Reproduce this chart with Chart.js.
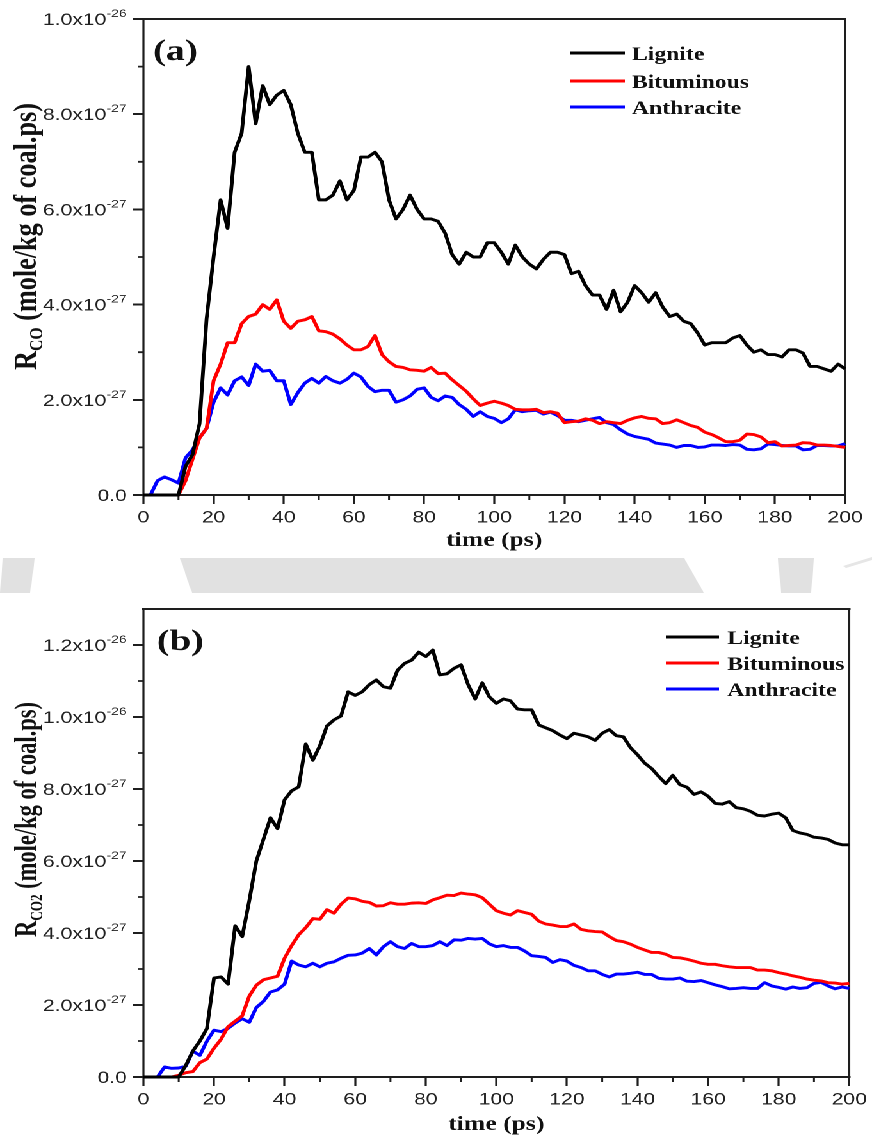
<!DOCTYPE html>
<html>
<head>
<meta charset="utf-8">
<script src="https://cdn.jsdelivr.net/npm/chart.js@4.4.1/dist/chart.umd.min.js"></script>
<style>
  html, body { margin: 0; padding: 0; background: #fff; }
  body { width: 872px; height: 1142px; position: relative; overflow: hidden; }
  #band { position: absolute; left: 0; top: 0; }
  /* the panels are laid out on a narrower stage and widened as a whole */
  #stage { position: absolute; left: 0; top: 0; width: 681px; height: 1142px;
           transform: scaleX(1.2805); transform-origin: 0 0; }
  .panel { position: absolute; left: 0; width: 681px; }
  #panel-a { top: 0; height: 556px; }
  #panel-b { top: 595px; height: 547px; }
</style>
</head>
<body>
<svg id="band" width="872" height="1142">
  <polygon points="3,558 35,558 30,593 0,593" fill="#e1e1e1"/>
  <polygon points="180,558 684,558 704,593 192,593" fill="#e1e1e1"/>
  <polygon points="778,558 814,558 811,593 781,593" fill="#e1e1e1"/>
  <polygon points="843,566 872,557 872,560 846,568" fill="#e6e6e6"/>
</svg>
<div id="stage">
  <div class="panel" id="panel-a"><canvas id="chart-a"></canvas></div>
  <div class="panel" id="panel-b"><canvas id="chart-b"></canvas></div>
</div>
<script>
// time axis (ps), shared by both panels
const times = [
  0, 2, 4, 6, 8, 10, 12, 14, 16, 18, 20, 22, 24, 26, 28, 30, 32, 34, 36, 38,
  40, 42, 44, 46, 48, 50, 52, 54, 56, 58, 60, 62, 64, 66, 68, 70, 72, 74, 76, 78,
  80, 82, 84, 86, 88, 90, 92, 94, 96, 98, 100, 102, 104, 106, 108, 110, 112, 114, 116, 118,
  120, 122, 124, 126, 128, 130, 132, 134, 136, 138, 140, 142, 144, 146, 148, 150, 152, 154, 156, 158,
  160, 162, 164, 166, 168, 170, 172, 174, 176, 178, 180, 182, 184, 186, 188, 190, 192, 194, 196, 198, 200
];

// rates in units of 1e-27 mole/kg of coal.ps
const coLignite = [
  0, 0, 0, 0, 0, 0, 0.6, 0.85, 1.5, 3.7, 5.0, 6.2, 5.6, 7.2, 7.6, 9.0, 7.8, 8.6, 8.2, 8.4,
  8.5, 8.2, 7.6, 7.2, 7.2, 6.2, 6.2, 6.3, 6.6, 6.2, 6.4, 7.1, 7.1, 7.2, 7.0, 6.2, 5.8, 6.0, 6.3, 6.0,
  5.8, 5.8, 5.75, 5.5, 5.05, 4.85, 5.1, 5.0, 5.0, 5.3, 5.3, 5.1, 4.85, 5.25, 5.0, 4.85, 4.75, 4.95, 5.1, 5.1,
  5.05, 4.65, 4.7, 4.4, 4.2, 4.2, 3.9, 4.3, 3.85, 4.05, 4.4, 4.25, 4.05, 4.25, 3.95, 3.75, 3.8, 3.65, 3.6, 3.4,
  3.15, 3.2, 3.2, 3.2, 3.3, 3.35, 3.15, 3.0, 3.05, 2.95, 2.95, 2.9, 3.05, 3.05, 2.98, 2.7, 2.7, 2.65, 2.6, 2.75, 2.65
];
const coBituminous = [
  0, 0, 0, 0, 0, 0, 0.3, 0.75, 1.2, 1.4, 2.4, 2.75, 3.2, 3.2, 3.6, 3.75, 3.8, 4.0, 3.9, 4.1,
  3.65, 3.5, 3.65, 3.68, 3.75, 3.45, 3.43, 3.38, 3.28, 3.15, 3.05, 3.05, 3.12, 3.35, 2.95, 2.8, 2.7, 2.68, 2.63, 2.62,
  2.6, 2.68, 2.55, 2.56, 2.42, 2.3, 2.18, 2.02, 1.88, 1.93, 1.97, 1.93, 1.88, 1.8, 1.79, 1.79, 1.8, 1.73, 1.75, 1.72,
  1.52, 1.54, 1.55, 1.6, 1.57, 1.5, 1.54, 1.52, 1.5, 1.57, 1.62, 1.65, 1.61, 1.6, 1.5, 1.52, 1.58, 1.52, 1.46, 1.42,
  1.32, 1.27, 1.2, 1.12, 1.12, 1.15, 1.28, 1.27, 1.22, 1.1, 1.12, 1.03, 1.04, 1.05, 1.1, 1.09, 1.05, 1.05, 1.04, 1.02, 1.0
];
const coAnthracite = [
  0, 0, 0.3, 0.38, 0.32, 0.25, 0.78, 0.95, 1.2, 1.4, 1.95, 2.25, 2.1, 2.4, 2.48, 2.3, 2.75, 2.6, 2.62, 2.4,
  2.4, 1.9, 2.15, 2.35, 2.45, 2.35, 2.49, 2.4, 2.35, 2.43, 2.56, 2.48, 2.28, 2.17, 2.2, 2.2, 1.95, 2.0, 2.08, 2.22,
  2.25, 2.05, 1.98, 2.08, 2.05, 1.9, 1.8, 1.65, 1.75, 1.65, 1.61, 1.52, 1.6, 1.79, 1.75, 1.77, 1.78, 1.7, 1.74, 1.67,
  1.57, 1.57, 1.54, 1.57, 1.6, 1.63, 1.52, 1.48, 1.37, 1.28, 1.23, 1.2, 1.17, 1.09, 1.07, 1.05, 1.0, 1.04, 1.04, 1.0,
  1.01, 1.05, 1.05, 1.04, 1.06, 1.05, 0.96, 0.95, 0.97, 1.07, 1.06, 1.04, 1.03, 1.03, 0.95, 0.96, 1.04, 1.04, 1.03, 1.03, 1.08
];

const co2Lignite = [
  0, 0, 0, 0, 0, 0, 0.32, 0.72, 1.0, 1.35, 2.75, 2.78, 2.58, 4.2, 3.9, 4.9, 6.0, 6.6, 7.2, 6.9,
  7.7, 7.95, 8.06, 9.25, 8.8, 9.2, 9.75, 9.92, 10.03, 10.7, 10.6, 10.7, 10.9, 11.03, 10.84, 10.8, 11.3, 11.49, 11.58, 11.8,
  11.68, 11.86, 11.17, 11.2, 11.35, 11.45, 10.9, 10.5, 10.95, 10.56, 10.38, 10.5, 10.45, 10.22, 10.2, 10.2, 9.78, 9.7, 9.62, 9.5,
  9.4, 9.55, 9.5, 9.45, 9.35, 9.55, 9.65, 9.48, 9.45, 9.15, 8.95, 8.72, 8.57, 8.35, 8.15, 8.38, 8.12, 8.05, 7.85, 7.92,
  7.8, 7.6, 7.58, 7.65, 7.48, 7.45, 7.38, 7.27, 7.25, 7.3, 7.33, 7.2, 6.85, 6.78, 6.74, 6.66, 6.64, 6.6, 6.5, 6.45, 6.45
];
const co2Bituminous = [
  0, 0, 0, 0, 0, 0.05, 0.12, 0.15, 0.4, 0.5, 0.8, 1.05, 1.4, 1.55, 1.7, 2.25, 2.55, 2.7, 2.75, 2.8,
  3.3, 3.65, 3.95, 4.15, 4.4, 4.38, 4.65, 4.55, 4.8, 4.97, 4.95, 4.88, 4.85, 4.75, 4.76, 4.84, 4.8, 4.8, 4.83, 4.84,
  4.82, 4.92, 4.98, 5.05, 5.04, 5.11, 5.08, 5.06, 4.98, 4.8, 4.62, 4.55, 4.5, 4.62, 4.57, 4.52, 4.33, 4.25, 4.22, 4.18,
  4.18, 4.25, 4.1, 4.06, 4.04, 4.03, 3.9, 3.79, 3.76, 3.69, 3.6, 3.53, 3.46, 3.46, 3.41, 3.32, 3.31, 3.27, 3.22, 3.16,
  3.13, 3.13, 3.09, 3.06, 3.04, 3.04, 3.04, 2.97, 2.97, 2.95, 2.9, 2.86, 2.81, 2.77, 2.72, 2.69, 2.67, 2.62, 2.61, 2.58, 2.6
];
const co2Anthracite = [
  0, 0, 0, 0.28, 0.24, 0.25, 0.3, 0.72, 0.6, 1.0, 1.3, 1.26, 1.35, 1.5, 1.62, 1.52, 1.93, 2.1, 2.36, 2.42,
  2.58, 3.22, 3.11, 3.06, 3.16, 3.06, 3.16, 3.2, 3.3, 3.38, 3.39, 3.44, 3.57, 3.39, 3.62, 3.76, 3.62, 3.57, 3.71, 3.62,
  3.62, 3.65, 3.76, 3.65, 3.81, 3.8, 3.85, 3.83, 3.85, 3.7, 3.62, 3.65, 3.6, 3.6, 3.5, 3.37, 3.35, 3.32, 3.18, 3.26,
  3.22, 3.1, 3.04, 2.95, 2.95, 2.85, 2.78, 2.86, 2.86, 2.88, 2.91, 2.85, 2.85, 2.74, 2.72, 2.72, 2.75, 2.66, 2.65, 2.68,
  2.62, 2.56, 2.51, 2.45, 2.46, 2.48, 2.46, 2.46, 2.62, 2.53, 2.49, 2.44, 2.5, 2.46, 2.48, 2.6, 2.63, 2.53, 2.45, 2.5, 2.46
];

const seriesNames = ['Lignite', 'Bituminous', 'Anthracite'];
const seriesColors = ['#000000', '#ff0000', '#0000ff'];

const xMinorTicks = [10, 30, 50, 70, 90, 110, 130, 150, 170, 190];
const yMinorTicksA = [1, 3, 5, 7, 9];
const yMinorTicksB = [1, 3, 5, 7, 9, 11];

const INK = '#1e1e1e';
const SANS = '"Liberation Sans", Arial, sans-serif';
const SERIF = '"Liberation Serif", "Times New Roman", serif';

// 0 -> "0.0", 8 -> "8.0x10" + "-27", 10 -> "1.0x10" + "-26"
function yTickText(v) {
  if (v === 0) return ['0.0', ''];
  if (v >= 10) return [(v / 10).toFixed(1) + 'x10', '-26'];
  return [v.toFixed(1) + 'x10', '-27'];
}

// frame, minor ticks, custom tick labels, titles and the inset legend
const panelDeco = {
  id: 'panelDeco',
  beforeDatasetsDraw(chart, args, o) {
    const { ctx, chartArea: a, scales: { x, y } } = chart;
    ctx.save();
    ctx.strokeStyle = INK;
    ctx.lineCap = 'square';
    ctx.lineWidth = 2;
    ctx.beginPath();
    ctx.moveTo(a.left, a.top); ctx.lineTo(a.right, a.top);
    ctx.moveTo(a.left, a.bottom); ctx.lineTo(a.right, a.bottom);
    ctx.stroke();
    ctx.lineWidth = 1.6;
    ctx.beginPath();
    ctx.moveTo(a.left, a.top); ctx.lineTo(a.left, a.bottom);
    ctx.moveTo(a.right, a.top); ctx.lineTo(a.right, a.bottom);
    ctx.stroke();

    ctx.lineCap = 'butt';
    ctx.lineWidth = 1.8;
    ctx.beginPath();
    o.yMinor.forEach(v => {
      const py = y.getPixelForValue(v);
      ctx.moveTo(a.left - 4.5, py); ctx.lineTo(a.left, py);
    });
    ctx.stroke();
    ctx.lineWidth = 1.5;
    ctx.beginPath();
    xMinorTicks.forEach(v => {
      const px = x.getPixelForValue(v);
      ctx.moveTo(px, a.bottom); ctx.lineTo(px, a.bottom + 5);
    });
    ctx.stroke();
    ctx.restore();
  },
  afterDraw(chart, args, o) {
    const { ctx, chartArea: a, scales: { y } } = chart;
    ctx.save();
    ctx.fillStyle = '#222';
    ctx.textAlign = 'right';
    ctx.textBaseline = 'alphabetic';
    y.ticks.forEach(t => {
      const py = y.getPixelForValue(t.value);
      const [main, exp] = yTickText(t.value);
      ctx.font = '11px ' + SANS;
      const ew = exp ? ctx.measureText(exp).width : 0;
      if (exp) ctx.fillText(exp, o.tickRight, py - 2);
      ctx.font = '16.5px ' + SANS;
      ctx.fillText(main, o.tickRight - ew, py + 6);
    });

    ctx.fillStyle = '#111';
    ctx.textAlign = 'left';
    ctx.font = 'bold ' + o.tag.size + 'px ' + SERIF;
    ctx.fillText(o.tag.text, o.tag.x, o.tag.y);

    // legend
    const lg = o.legend;
    chart.data.datasets.forEach((ds, i) => {
      const ly = lg.rows[i];
      ctx.strokeStyle = ds.borderColor;
      ctx.lineWidth = 3;
      ctx.beginPath();
      ctx.moveTo(lg.x0, ly); ctx.lineTo(lg.x1, ly);
      ctx.stroke();
      ctx.fillStyle = '#111';
      ctx.font = 'bold ' + lg.size + 'px ' + SERIF;
      ctx.fillText(ds.label, lg.tx, ly + 7);
    });

    // x title
    ctx.textAlign = 'center';
    ctx.font = 'bold ' + o.xTitle.size + 'px ' + SERIF;
    ctx.fillText('time (ps)', (a.left + a.right) / 2, o.xTitle.y);

    // y title, rotated, with subscript, fitted to its length
    const yt = o.yTitle;
    const mainFont = 'bold ' + yt.size + 'px ' + SERIF;
    const subFont = 'bold ' + yt.sub + 'px ' + SERIF;
    const rest = ' (mole/kg of coal.ps)';
    ctx.font = mainFont;
    const wR = ctx.measureText('R').width;
    const wRest = ctx.measureText(rest).width;
    ctx.font = subFont;
    const wSub = ctx.measureText(yt.species).width;
    const k = yt.len / (wR + wSub + wRest);
    ctx.translate(yt.x, yt.y);
    ctx.rotate(-Math.PI / 2);
    ctx.scale(k, 1);
    ctx.textAlign = 'left';
    ctx.font = mainFont;
    ctx.fillText('R', 0, 0);
    ctx.font = subFont;
    ctx.fillText(yt.species, wR, 5);
    ctx.font = mainFont;
    ctx.fillText(rest, wR + wSub, 0);
    ctx.restore();
  }
};

function buildPanel(canvasId, values, cfg) {
  const datasets = values.map((vals, i) => ({
    label: seriesNames[i],
    data: times.map((t, j) => ({ x: t, y: vals[j] })),
    borderColor: seriesColors[i],
    borderWidth: 2.9,
    borderJoinStyle: 'round',
    pointRadius: 0,
    tension: 0,
    fill: false,
    clip: false
  }));

  return new Chart(document.getElementById(canvasId), {
    type: 'line',
    data: { datasets },
    options: {
      responsive: true,
      maintainAspectRatio: false,
      animation: false,
      devicePixelRatio: 2,
      layout: { padding: { top: cfg.padTop, right: cfg.padRight, left: 0, bottom: 0 } },
      plugins: {
        legend: { display: false },
        tooltip: { enabled: false },
        panelDeco: cfg.deco
      },
      scales: {
        x: {
          type: 'linear',
          min: 0,
          max: 200,
          border: { display: false },
          grid: { drawOnChartArea: false, drawTicks: true, tickLength: 9, tickWidth: 1.6, tickColor: INK },
          ticks: { stepSize: 20, autoSkip: false, maxRotation: 0, padding: cfg.xPad, color: '#222',
                   font: { family: SANS, size: 16.5 } },
          afterFit: s => { s.height = cfg.xHeight; }
        },
        y: {
          type: 'linear',
          min: 0,
          max: cfg.yMax,
          border: { display: false },
          grid: { drawOnChartArea: false, drawTicks: true, tickLength: 8, tickWidth: 2, tickColor: INK },
          ticks: { stepSize: 2, includeBounds: false, display: false },
          afterFit: s => { s.width = 112; }
        }
      }
    },
    plugins: [panelDeco]
  });
}

buildPanel('chart-a', [coLignite, coBituminous, coAnthracite], {
  yMax: 10, padTop: 19, padRight: 21, xHeight: 61, xPad: 4,
  deco: {
    yMinor: yMinorTicksA,
    tickRight: 99,
    tag: { text: '(a)', x: 119.5, y: 60, size: 30 },
    legend: { x0: 445, x1: 488, tx: 493.5, rows: [53, 81, 107], size: 18.5 },
    xTitle: { y: 546, size: 20 },
    yTitle: { species: 'CO', x: 28, y: 370, len: 267, size: 25, sub: 15 }
  }
});

buildPanel('chart-b', [co2Lignite, co2Bituminous, co2Anthracite], {
  yMax: 13, padTop: 14, padRight: 15, xHeight: 65, xPad: 4,
  deco: {
    yMinor: yMinorTicksB,
    tickRight: 99,
    tag: { text: '(b)', x: 122.5, y: 55, size: 30 },
    legend: { x0: 520, x1: 561.5, tx: 568, rows: [42, 68, 94], size: 18.5 },
    xTitle: { y: 535, size: 20 },
    yTitle: { species: 'CO2', x: 28, y: 342, len: 235, size: 24, sub: 14 }
  }
});
</script>
</body>
</html>
